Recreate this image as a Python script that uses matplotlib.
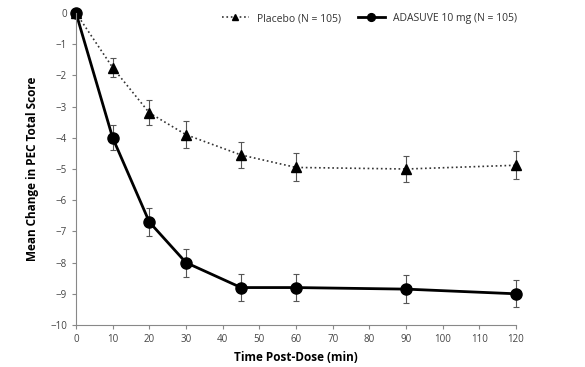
import numpy as np
import matplotlib.pyplot as plt

# time points (min) and mean change values
time_min = [0, 10, 20, 30, 45, 60, 90, 120]
placebo_mean = [0, -1.75, -3.2, -3.9, -4.55, -4.95, -5.0, -4.88]
placebo_err = [0, 0.3, 0.4, 0.43, 0.42, 0.45, 0.42, 0.45]
adasuve_mean = [0, -4.0, -6.7, -8.0, -8.8, -8.8, -8.85, -9.0]
adasuve_err = [0, 0.4, 0.45, 0.45, 0.42, 0.43, 0.45, 0.43]

x_ticks = list(range(0, 121, 10))
y_ticks = list(range(-10, 1))

plt.rcParams['font.family'] = ['Open Sans', 'DejaVu Sans']

fig = plt.figure(figsize=(5.85, 3.67), dpi=100)
ax = fig.add_axes([76/585, 1 - 325/367, 440/585, 312/367])

p = ax.errorbar(time_min, placebo_mean, yerr=placebo_err, color='#333333', ls=':', lw=1.2,
                marker='^', ms=7, mfc='black', mec='black',
                ecolor='#555555', elinewidth=0.8, capsize=2, capthick=0.8,
                label='Placebo (N = 105)')
a = ax.errorbar(time_min, adasuve_mean, yerr=adasuve_err, color='black', ls='-', lw=2,
                marker='o', ms=8, ecolor='#555555', elinewidth=0.8, capsize=2, capthick=0.8,
                label='ADASUVE 10 mg (N = 105)')
for cont in (p, a):
    for art in cont.get_children():
        art.set_clip_on(False)

ax.set_xlim(0, 120)
ax.set_ylim(-10, 0)
ax.set_xticks(x_ticks)
ax.set_yticks(y_ticks)
ax.spines['top'].set_visible(False)
ax.spines['right'].set_visible(False)
ax.spines['left'].set_color('#888888')
ax.spines['bottom'].set_color('#888888')
ax.tick_params(colors='#888888', labelcolor='#444444', labelsize=7, length=3)

ax.set_xlabel('Time Post-Dose (min)', fontsize=8.5, fontweight='bold', labelpad=4)
ax.set_ylabel('Mean Change in PEC Total Score', fontsize=8.5, fontweight='bold', labelpad=8)

handles, labels = ax.get_legend_handles_labels()
handles = [h[0] for h in handles]
leg = ax.legend(handles, labels, loc='upper left', bbox_to_anchor=(0.31, 1.03), ncol=2,
                frameon=False, fontsize=7.5, handlelength=2.6, columnspacing=1.6,
                markerscale=0.7)
for t in leg.get_texts():
    t.set_color('#333333')

fig.savefig('out.png', dpi=100)
